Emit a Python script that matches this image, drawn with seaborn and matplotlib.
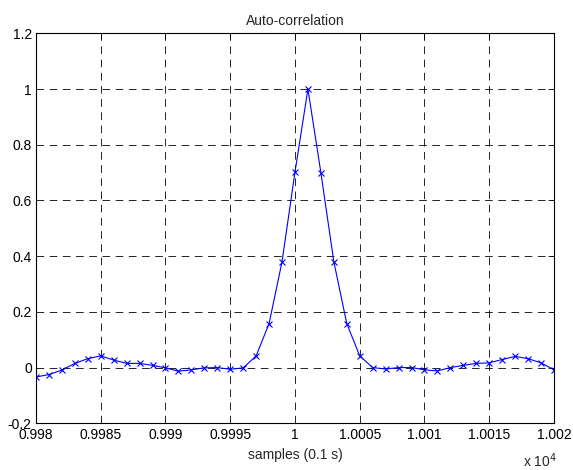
import matplotlib
matplotlib.use("Agg")
import matplotlib.pyplot as plt
import seaborn as sns
import numpy as np
import pandas as pd

samples = list(range(9980, 10021))
values = [-0.034, -0.025, -0.009, 0.015, 0.032, 0.042, 0.027, 0.015, 0.015, 0.008,
          -0.001, -0.013, -0.008, -0.001, 0.0, -0.006, -0.001, 0.042, 0.158, 0.38,
          0.702, 1.0, 0.70, 0.38, 0.158, 0.042, 0.0, -0.005, 0.0, 0.0,
          -0.008, -0.012, 0.0, 0.008, 0.015, 0.017, 0.029, 0.040, 0.032, 0.017, -0.008]
xticks = list(range(9980, 10021, 5))
yticks = [-0.2, 0, 0.2, 0.4, 0.6, 0.8, 1, 1.2]

sns.set_style("white")
plt.rcParams['font.family'] = ['Liberation Sans', 'DejaVu Sans']
plt.rcParams['lines.scale_dashes'] = False

df = pd.DataFrame({"sample": samples, "value": values})

fig = plt.figure(figsize=(5.73, 4.70), dpi=100)
ax = fig.add_axes([0.0628, 0.0994, 0.9040, 0.8296])

sns.lineplot(data=df, x="sample", y="value", ax=ax, color=(0, 0, 1),
             linewidth=0.8, marker="x", markersize=4, markeredgewidth=0.8,
             markeredgecolor=(0, 0, 1), clip_on=True)

ax.set_xlim(9980, 10020)
ax.set_ylim(-0.2, 1.2)
ax.set_xticks(xticks)
ax.set_xticklabels(["%g" % (t / 1e4) for t in xticks])
ax.set_yticks(yticks)
ax.set_yticklabels(["%g" % t for t in yticks])

ax.grid(True, color="black", linestyle=(0, (5.5, 4)), linewidth=0.6)
ax.tick_params(direction="in", length=4, width=0.6, labelsize=10, pad=3,
               top=True, right=True, colors="black")
ax.tick_params(axis="x", pad=3.5)
for s in ax.spines.values():
    s.set_color("black")
    s.set_linewidth(0.8)

ax.set_title("Auto-correlation", fontsize=10, pad=6)
ax.set_xlabel("samples (0.1 s)", fontsize=10, labelpad=4)
ax.set_ylabel("")
ax.text(1.006, -0.097, r"x 10$^{4}$", transform=ax.transAxes, fontsize=10,
        ha="right", va="center")

fig.savefig("out.png", dpi=100)
